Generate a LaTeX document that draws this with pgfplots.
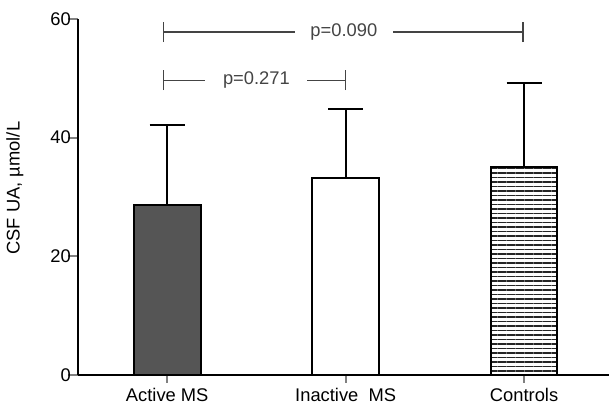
\documentclass[border=0pt]{standalone}
\usepackage{fontspec}
\setmainfont{Liberation Sans}
\usepackage{pgfplots}
\pgfplotsset{compat=1.18}
\usetikzlibrary{patterns.meta}
\definecolor{bargray}{HTML}{555555}
\definecolor{brk}{HTML}{444444}
\newcommand{\chartfont}{\fontsize{11}{13}\selectfont}
\begin{document}
\begin{tikzpicture}[font=\chartfont]
\begin{axis}[
  name=ax,
  at={(0,0)}, anchor=south west,
  scale only axis,
  width=318.6pt, height=213.6pt,
  xmin=-0.5, xmax=2.476,
  ymin=0, ymax=60,
  axis lines*=left,
  axis line style={line width=1.2pt},
  ytick={0,20,40,60},
  xtick={0,1,2},
  xticklabels={Active MS, Inactive~~MS, Controls},
  tick align=outside,
  tick label style={font=\chartfont},
  label style={font=\chartfont},
  xtick style={line width=1.2pt, /pgfplots/major tick length=4.5pt},
  ytick style={line width=1.2pt, /pgfplots/major tick length=6pt},
  yticklabel style={xshift=3.5pt},
  /pgf/number format/assume math mode=true,
  ylabel={CSF UA, µmol/L},
  every axis y label/.style={at={(rel axis cs:0,0.525)}, xshift=-37.8pt, rotate=90, anchor=center, font=\chartfont},
  clip=false,
]
\addplot[ybar, bar width=40pt, fill=bargray, draw=black, line width=1.2pt,
  error bars/.cd, y dir=plus, y explicit,
  error bar style={line width=1.2pt, black},
  error mark options={rotate=90, mark size=10.5pt, line width=1.2pt, black}]
  coordinates {(0,28.7) +- (0,13.5)};
\addplot[ybar, bar width=40pt, fill=white, draw=black, line width=1.2pt,
  error bars/.cd, y dir=plus, y explicit,
  error bar style={line width=1.2pt, black},
  error mark options={rotate=90, mark size=10.5pt, line width=1.2pt, black}]
  coordinates {(1,33.15) +- (0,11.65)};
\addplot[ybar, bar width=40pt, fill=white, draw=black, line width=1.2pt,
  postaction={pattern={Lines[angle=0,distance=2.7pt,line width=0.85pt]}, pattern color=black!85},
  error bars/.cd, y dir=plus, y explicit,
  error bar style={line width=1.2pt, black},
  error mark options={rotate=90, mark size=10.5pt, line width=1.2pt, black}]
  coordinates {(2,35.1) +- (0,14.1)};
% brackets
\draw[brk, line width=0.7pt] (axis cs:-0.022,56.1) -- (axis cs:-0.022,59.5);
\draw[brk, line width=0.7pt] (axis cs:-0.022,57.8) -- (axis cs:0.717,57.8);
\draw[brk, line width=0.7pt] (axis cs:1.266,57.8) -- (axis cs:1.994,57.8);
\draw[brk, line width=0.7pt] (axis cs:1.994,56.1) -- (axis cs:1.994,59.5);
\node[text=brk] at (axis cs:0.99,57.8) {p=0.090};
\draw[brk, line width=0.7pt] (axis cs:-0.022,48.0) -- (axis cs:-0.022,51.4);
\draw[brk, line width=0.7pt] (axis cs:-0.022,49.7) -- (axis cs:0.213,49.7);
\draw[brk, line width=0.7pt] (axis cs:0.784,49.7) -- (axis cs:0.997,49.7);
\draw[brk, line width=0.7pt] (axis cs:0.997,48.0) -- (axis cs:0.997,51.4);
\node[text=brk] at (axis cs:0.50,49.7) {p=0.271};
\end{axis}
\pgfresetboundingbox
\path (-46.8pt,-19.2pt) rectangle ++(365.4pt,244.2pt);
\end{tikzpicture}
\end{document}
